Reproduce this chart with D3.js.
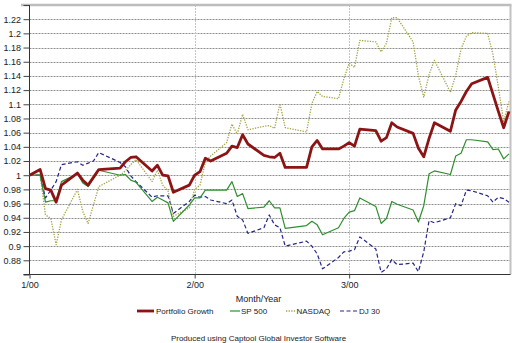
<!DOCTYPE html>
<html>
<head>
<meta charset="utf-8">
<script src="https://cdn.jsdelivr.net/npm/d3@7"></script>
<style>
  html, body { margin: 0; padding: 0; background: #fff; }
  svg { display: block; font-family: Arial, "Liberation Sans", sans-serif; }
</style>
</head>
<body>
<svg id="chart" width="512" height="343"></svg>
<script>
// Trading days, Jan–Mar 2000 (first entry is the starting base)
const dates = [
  "2000-01-01","2000-01-03","2000-01-04","2000-01-05","2000-01-06","2000-01-07",
  "2000-01-10","2000-01-11","2000-01-12","2000-01-13","2000-01-14",
  "2000-01-18","2000-01-19","2000-01-20","2000-01-21",
  "2000-01-24","2000-01-25","2000-01-26","2000-01-27","2000-01-28","2000-01-31",
  "2000-02-01","2000-02-02","2000-02-03","2000-02-04",
  "2000-02-07","2000-02-08","2000-02-09","2000-02-10","2000-02-11",
  "2000-02-14","2000-02-15","2000-02-16","2000-02-17","2000-02-18",
  "2000-02-22","2000-02-23","2000-02-24","2000-02-25",
  "2000-02-28","2000-02-29","2000-03-01","2000-03-02","2000-03-03",
  "2000-03-06","2000-03-07","2000-03-08","2000-03-09","2000-03-10",
  "2000-03-13","2000-03-14","2000-03-15","2000-03-16","2000-03-17",
  "2000-03-20","2000-03-21","2000-03-22","2000-03-23","2000-03-24",
  "2000-03-27","2000-03-28","2000-03-29","2000-03-30","2000-03-31"
];

const portfolioGrowth = [
  1.000, 1.008, 0.981, 0.979, 0.962, 0.986, 1.003, 0.993, 0.986, 0.997, 1.008,
  1.010, 1.019, 1.025, 1.026, 1.006, 1.014, 1.000, 0.999, 0.976, 0.986,
  1.000, 1.005, 1.024, 1.020, 1.031, 1.041, 1.039, 1.057, 1.044,
  1.028, 1.026, 1.025, 1.031, 1.011, 1.011, 1.040, 1.049, 1.037, 1.037, 1.041,
  1.046, 1.041, 1.065, 1.063, 1.048, 1.053, 1.074, 1.068,
  1.059, 1.038, 1.026, 1.052, 1.074, 1.062, 1.092, 1.104, 1.118, 1.129,
  1.138, 1.114, 1.090, 1.067, 1.090
];

const sp500 = [
  1.000, 1.000, 0.962, 0.964, 0.964, 0.991, 1.002, 0.989, 0.984, 0.996, 1.007,
  1.000, 1.001, 0.993, 0.990, 0.963, 0.969, 0.965, 0.961, 0.935, 0.958,
  0.968, 0.968, 0.979, 0.979, 0.979, 0.991, 0.970, 0.974, 0.953,
  0.955, 0.964, 0.954, 0.954, 0.925, 0.929, 0.935, 0.930, 0.916, 0.926, 0.939,
  0.948, 0.950, 0.968, 0.956, 0.932, 0.939, 0.963, 0.959,
  0.951, 0.934, 0.957, 1.002, 1.006, 1.001, 1.027, 1.031, 1.050, 1.050,
  1.047, 1.036, 1.037, 1.023, 1.030
];

const nasdaq = [
  1.000, 1.000, 0.944, 0.939, 0.902, 0.937, 0.980, 0.949, 0.932, 0.958, 0.984,
  1.000, 1.006, 1.015, 1.022, 0.991, 1.007, 0.986, 0.978, 0.942, 0.954,
  0.980, 0.986, 1.018, 1.027, 1.046, 1.072, 1.058, 1.086, 1.064,
  1.069, 1.070, 1.066, 1.101, 1.067, 1.061, 1.101, 1.118, 1.111, 1.108, 1.136,
  1.158, 1.152, 1.190, 1.188, 1.174, 1.186, 1.222, 1.222,
  1.188, 1.140, 1.110, 1.142, 1.162, 1.117, 1.141, 1.178, 1.196, 1.201,
  1.200, 1.170, 1.124, 1.076, 1.104
];

const dj30 = [
  1.000, 1.000, 0.968, 0.979, 0.991, 1.015, 1.019, 1.014, 1.017, 1.020, 1.032,
  1.018, 1.012, 0.999, 0.991, 0.969, 0.971, 0.971, 0.971, 0.946, 0.963,
  0.972, 0.969, 0.970, 0.965, 0.960, 0.965, 0.942, 0.937, 0.918,
  0.926, 0.944, 0.930, 0.926, 0.900, 0.907, 0.900, 0.889, 0.868, 0.884, 0.892,
  0.893, 0.895, 0.913, 0.896, 0.863, 0.868, 0.881, 0.874,
  0.876, 0.864, 0.892, 0.936, 0.933, 0.940, 0.960, 0.957, 0.979, 0.978,
  0.971, 0.962, 0.969, 0.967, 0.962
];

const seriesNames = ["Portfolio Growth", "SP 500", "NASDAQ", "DJ 30"];
const yTicks = [0.86, 0.88, 0.9, 0.92, 0.94, 0.96, 0.98, 1, 1.02, 1.04, 1.06,
                1.08, 1.1, 1.12, 1.14, 1.16, 1.18, 1.2, 1.22, 1.24];
const monthTicks = ["2000-01-01", "2000-02-01", "2000-03-01"];
const monthLabels = ["1/00", "2/00", "3/00"];
const xTitle = "Month/Year";
const footer = "Produced using Captool Global Investor Software";

const parse = d3.timeParse("%Y-%m-%d");
const dateObjs = dates.map(parse);

const styles = [
  { color: "#8c1414", width: 2.8, dash: null },
  { color: "#2f8f2f", width: 1.2, dash: null },
  { color: "#a3a346", width: 1.3, dash: "1.3,1.3" },
  { color: "#26268a", width: 1.2, dash: "4,2.5" }
];
const seriesValues = [portfolioGrowth, sp500, nasdaq, dj30];

const svg = d3.select("#chart");
const plotLeft = 29.5, plotRight = 510.5, plotTop = 5, plotBottom = 274.5;

const x = d3.scaleTime()
  .domain([parse("2000-01-01"), parse("2000-03-31")])
  .range([plotLeft, 509]);
const y = d3.scaleLinear().domain([0.86, 1.24]).range([plotBottom, plotTop]);

// horizontal grid
svg.append("g")
  .selectAll("line")
  .data(yTicks.filter(v => v > 0.87 && v < 1.23))
  .join("line")
  .attr("x1", plotLeft).attr("x2", plotRight)
  .attr("y1", d => Math.round(y(d)) + 0.5).attr("y2", d => Math.round(y(d)) + 0.5)
  .attr("stroke", "#8f8f8f").attr("stroke-width", 1)
  .attr("stroke-dasharray", "2,1");

// vertical grid at month starts
svg.append("g")
  .selectAll("line")
  .data(monthTicks.slice(1).map(parse))
  .join("line")
  .attr("x1", d => Math.round(x(d)) + 0.5).attr("x2", d => Math.round(x(d)) + 0.5)
  .attr("y1", plotTop).attr("y2", plotBottom)
  .attr("stroke", "#c4c4c4").attr("stroke-width", 1)
  .attr("stroke-dasharray", "2,1");

// frame: light top and right edges
svg.append("line").attr("x1", 21).attr("x2", plotRight + 1)
  .attr("y1", plotTop).attr("y2", plotTop)
  .attr("stroke", "#bdbdbd").attr("stroke-width", 2.5);
svg.append("line").attr("x1", plotRight).attr("x2", plotRight)
  .attr("y1", plotTop).attr("y2", plotBottom)
  .attr("stroke", "#c2c2c2").attr("stroke-width", 2);

// y axis
const yAxis = d3.axisLeft(y)
  .tickValues(yTicks)
  .tickSize(6)
  .tickPadding(2.5)
  .tickFormat(d => (d < 0.87 || d > 1.23) ? "" : String(+d.toFixed(2)));
const gy = svg.append("g").attr("transform", `translate(${plotLeft},0)`).call(yAxis);
gy.select(".domain").attr("stroke", "#333").attr("d", `M0,${plotTop}V${plotBottom}`);
gy.selectAll(".tick line").attr("stroke", "#444");
gy.selectAll(".tick text").attr("font-size", 9).attr("fill", "#222")
  .attr("font-family", "Arial, 'Liberation Sans', sans-serif");

// x axis
const xAxis = d3.axisBottom(x)
  .tickValues(monthTicks.map(parse))
  .tickSize(4)
  .tickPadding(3)
  .tickFormat((d, i) => monthLabels[i]);
const gx = svg.append("g").attr("transform", `translate(0,${plotBottom})`).call(xAxis);
gx.select(".domain").attr("stroke", "#333").attr("d", `M${plotLeft - 6},0H${plotRight}`);
gx.selectAll(".tick line").attr("stroke", "#444");
gx.selectAll(".tick text").attr("font-size", 9).attr("fill", "#222")
  .attr("font-family", "Arial, 'Liberation Sans', sans-serif");

// series lines (drawn back to front so the portfolio sits on top)
const line = d3.line()
  .x((d, i) => x(dateObjs[i]))
  .y(d => y(d));
const order = [3, 2, 1, 0];
svg.append("g")
  .selectAll("path")
  .data(order)
  .join("path")
  .attr("d", k => line(seriesValues[k]))
  .attr("fill", "none")
  .attr("stroke", k => styles[k].color)
  .attr("stroke-width", k => styles[k].width)
  .attr("stroke-dasharray", k => styles[k].dash)
  .attr("stroke-linejoin", "round");

// axis title
svg.append("text")
  .attr("x", 258.5).attr("y", 302)
  .attr("text-anchor", "middle")
  .attr("font-size", 9).attr("fill", "#222")
  .text(xTitle);

// legend
const legendItems = [
  { x0: 137, x1: 154, tx: 156 },
  { x0: 230, x1: 240, tx: 241 },
  { x0: 286, x1: 296, tx: 296.5 },
  { x0: 340, x1: 357, tx: 359 }
];
const lg = svg.append("g");
legendItems.forEach((it, k) => {
  lg.append("line")
    .attr("x1", it.x0).attr("x2", it.x1)
    .attr("y1", 311).attr("y2", 311)
    .attr("stroke", styles[k].color)
    .attr("stroke-width", styles[k].width)
    .attr("stroke-dasharray", styles[k].dash);
  lg.append("text")
    .attr("x", it.tx).attr("y", 314)
    .attr("font-size", 8).attr("fill", "#222")
    .text(seriesNames[k]);
});

// footer
svg.append("text")
  .attr("x", 258.5).attr("y", 341)
  .attr("text-anchor", "middle")
  .attr("font-size", 8).attr("fill", "#222")
  .text(footer);
</script>
</body>
</html>
